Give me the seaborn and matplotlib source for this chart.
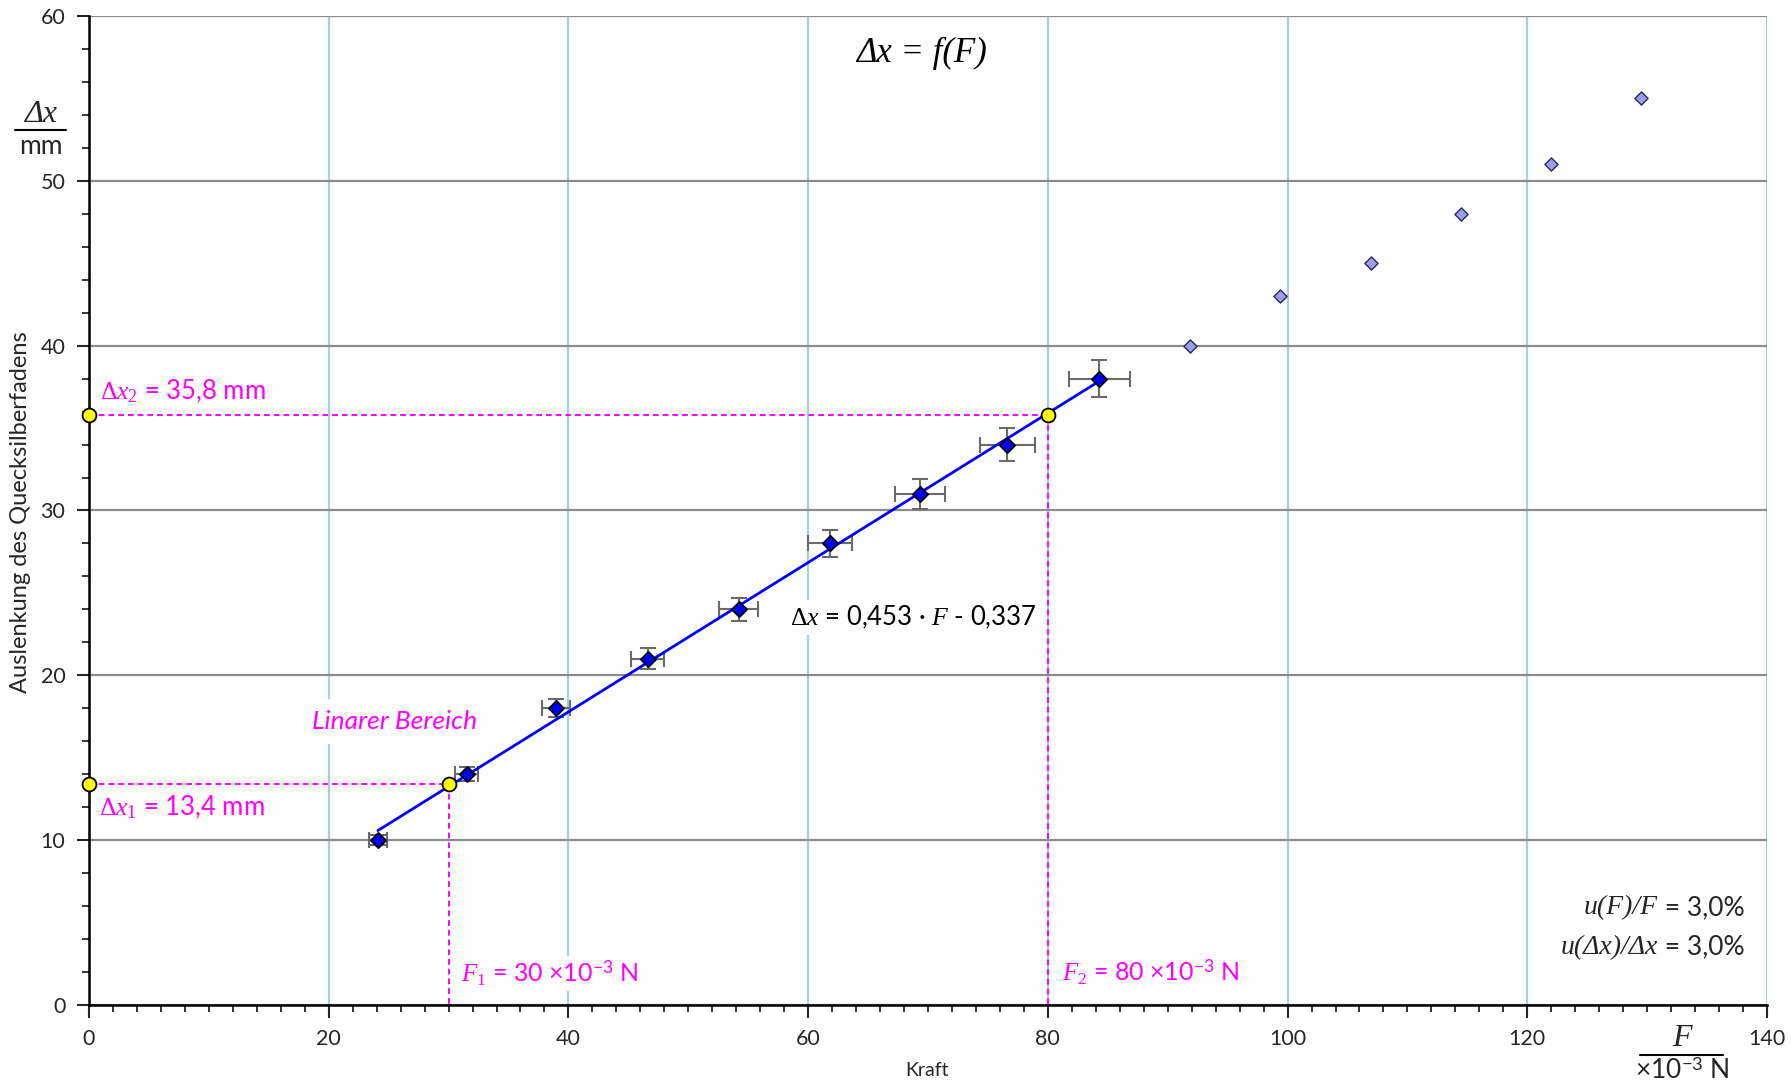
import numpy as np
import matplotlib
matplotlib.use("Agg")
import matplotlib.pyplot as plt
import seaborn as sns
import pandas as pd
from matplotlib.ticker import MultipleLocator
from matplotlib.lines import Line2D

# Messwerte (linearer Bereich)
kraft_lin = [24.1, 31.5, 39.0, 46.6, 54.2, 61.8, 69.3, 76.6, 84.3]
ausl_lin = [10, 14, 18, 21, 24, 28, 31, 34, 38]
# Messwerte ausserhalb des linearen Bereichs
kraft_rest = [91.9, 99.4, 107.0, 114.5, 122.0, 129.5]
ausl_rest = [40, 43, 45, 48, 51, 55]

# Regressionsgerade und Ablesewerte
steigung = 0.453
achsenabschnitt = -0.337
f_ablesen = [30, 80]
dx_ablesen = [13.4, 35.8]
u_rel = 0.03  # 3,0 %

sns.set_style("white")
plt.rcParams['font.family'] = ['Lato', 'DejaVu Sans']
plt.rcParams['mathtext.fontset'] = 'custom'
plt.rcParams['mathtext.rm'] = 'Liberation Serif'
plt.rcParams['mathtext.it'] = 'Liberation Serif:italic'
plt.rcParams['mathtext.sf'] = 'Lato'
serif_it = dict(family=['Liberation Serif', 'DejaVu Serif'], style='italic')

fig = plt.figure(figsize=(17.91, 10.86), dpi=100)
ax = fig.add_axes([0.0497, 0.0746, 0.9369, 0.9107])

magenta = '#ff00ff'

# Gitter
ax.set_axisbelow(True)
ax.yaxis.grid(True, color='#8c8c8c', lw=1.6)
ax.xaxis.grid(True, color='#a8cdf2', lw=1.6)

# Hilfslinien (gestrichelt)
for f, dx in zip(f_ablesen, dx_ablesen):
    ax.plot([0, f], [dx, dx], ls=(0, (3, 2)), color=magenta, lw=1.4, zorder=2)
    ax.plot([f, f], [dx, 0], ls=(0, (3, 2)), color=magenta, lw=1.4, zorder=2)

# Fehlerbalken
kl = np.array(kraft_lin)
al = np.array(ausl_lin)
ax.errorbar(kl, al, xerr=u_rel * kl, yerr=u_rel * al, fmt='none',
            ecolor='#6a6a6a', elinewidth=1.5, capsize=6, capthick=1.5, zorder=3)

# Ausgleichsgerade
fit = pd.DataFrame({'F': [kl.min(), kl.max()]})
fit['dx'] = steigung * fit['F'] + achsenabschnitt
sns.lineplot(data=fit, x='F', y='dx', color='#0000ff', lw=2, ax=ax, zorder=4)

# Messpunkte
df_lin = pd.DataFrame({'F': kraft_lin, 'dx': ausl_lin})
df_rest = pd.DataFrame({'F': kraft_rest, 'dx': ausl_rest})
sns.scatterplot(data=df_lin, x='F', y='dx', marker='D', s=60, color='#0000ff',
                edgecolor='black', linewidth=1.3, ax=ax, zorder=5)
sns.scatterplot(data=df_rest, x='F', y='dx', marker='D', s=45, color='#9c9cf0',
                edgecolor='#2a2a55', linewidth=1.0, ax=ax, zorder=5)

# Ablesepunkte
pts = pd.DataFrame({'F': [0, f_ablesen[0], 0, f_ablesen[1]],
                    'dx': [dx_ablesen[0], dx_ablesen[0], dx_ablesen[1], dx_ablesen[1]]})
sns.scatterplot(data=pts, x='F', y='dx', marker='o', s=100, color='#ffff00',
                edgecolor='black', linewidth=1.3, ax=ax, zorder=6, clip_on=False)

ax.set_xlim(0, 140)
ax.set_ylim(0, 60)
ax.xaxis.set_major_locator(MultipleLocator(20))
ax.xaxis.set_minor_locator(MultipleLocator(2))
ax.yaxis.set_major_locator(MultipleLocator(10))
ax.yaxis.set_minor_locator(MultipleLocator(2))
ax.tick_params(which='major', direction='out', length=9, width=1.5, labelsize=15.5, pad=8,
               bottom=True, left=True)
ax.tick_params(which='minor', direction='out', length=5, width=1.3, bottom=True, left=True)
for s in ['top', 'right']:
    ax.spines[s].set_visible(False)
for s in ['left', 'bottom']:
    ax.spines[s].set_color('black')
    ax.spines[s].set_linewidth(1.8)
ax.set_xlabel('')
ax.set_ylabel('')

# Beschriftungen
white = dict(fc='white', ec='none', pad=2)
ax.text(0.9, 37.2, r'$\Delta x_2$ = 35,8 mm', color=magenta, fontsize=18.5, va='center', bbox=white, zorder=7)
ax.text(0.8, 12.0, r'$\Delta x_1$ = 13,4 mm', color=magenta, fontsize=18.5, va='center', bbox=white, zorder=7)
ax.text(31.0, 1.9, r'$F_1$ = 30 ×10$^{\mathsf{-3}}$ N', color=magenta, fontsize=18, va='center', bbox=white, zorder=7)
ax.text(81.2, 2.0, r'$F_2$ = 80 ×10$^{\mathsf{-3}}$ N', color=magenta, fontsize=18, va='center', bbox=white, zorder=7)
ax.text(25.5, 17.2, 'Linarer Bereich', color=magenta, fontsize=19, style='italic',
        ha='center', va='center', bbox=dict(fc='white', ec='none', pad=8), zorder=7)
ax.text(68.8, 23.5, r'$\Delta x$ = 0,453 · $F$ - 0,337', color='black', fontsize=18.5,
        ha='center', va='center', bbox=dict(fc='white', ec='none', pad=3), zorder=7)
ax.text(69.5, 57.7, 'Δx = f(F)', color='black', fontsize=25, ha='center', va='center', **serif_it)

# Unsicherheiten (kursiver Teil + Zahlenwert)
t1 = ax.text(138.1, 5.9, ' = 3,0%', fontsize=19, ha='right', va='center', zorder=7)
ax.annotate('u(F)/F', xy=(0, 0), xycoords=t1, ha='right', va='bottom', fontsize=20, **serif_it)
t2 = ax.text(138.1, 3.5, ' = 3,0%', fontsize=19, ha='right', va='center', zorder=7)
ax.annotate('u(Δx)/Δx', xy=(0, 0), xycoords=t2, ha='right', va='bottom', fontsize=20, **serif_it)

# Achsenbeschriftungen
fig.text(21 / 1791, 1 - 512 / 1086, 'Auslenkung des Quecksilberfadens', rotation=90,
         fontsize=17, ha='center', va='center')
fig.text(927 / 1791, 1 - 1071 / 1086, 'Kraft', fontsize=14, ha='center', va='center')

fig.text(41 / 1791, 1 - 114 / 1086, 'Δx', fontsize=23, ha='center', va='center', **serif_it)
fig.text(41 / 1791, 1 - 147 / 1086, 'mm', fontsize=19, ha='center', va='center')
fig.add_artist(Line2D([15 / 1791, 66 / 1791], [1 - 130 / 1086] * 2, color='black', lw=1.5))

fig.text(1682 / 1791, 1 - 1038 / 1086, 'F', fontsize=23, ha='center', va='center', **serif_it)
fig.text(1682 / 1791, 1 - 1071 / 1086, r'×10$^{\mathsf{-3}}$ N', fontsize=19, ha='center', va='center')
fig.add_artist(Line2D([1640 / 1791, 1723 / 1791], [1 - 1055 / 1086] * 2, color='black', lw=1.5))

fig.savefig('out.png', dpi=100)
